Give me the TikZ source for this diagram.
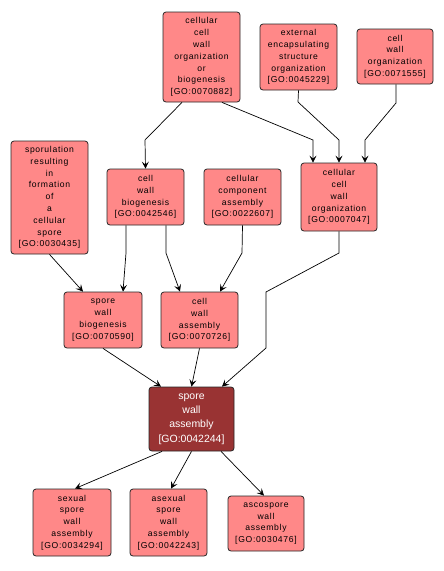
\documentclass[tikz,border=0pt]{standalone}
\usepackage{fontspec}
\setmainfont{Liberation Sans}
\newfontfamily\boxfont[LetterSpace=8]{Liberation Sans}
\usetikzlibrary{arrows.meta}
\definecolor{lightfill}{HTML}{FF8888}
\definecolor{darkfill}{HTML}{993333}
\begin{document}
\begin{tikzpicture}[x=1pt,y=-1pt,
  gobox/.style={draw=black!85, line width=0.8pt, rounded corners=3pt, fill=lightfill,
    align=center, inner sep=0pt, font=\boxfont\fontsize{8.6}{11.8}\selectfont},
  mainbox/.style={draw=black!85, line width=0.8pt, rounded corners=3pt, fill=darkfill,
    align=center, inner sep=0pt, text=white, font=\fontsize{10.5}{14.3}\selectfont},
  edge/.style={draw=black, line width=0.7pt, -{Stealth[length=7pt,width=7pt,inset=3pt]}}]
\useasboundingbox (0,0) rectangle (444,571);
\fill[white] (0,0) rectangle (444,571);
\node[gobox, minimum width=77pt, minimum height=90pt] (n0070882) at (201.5,57) {cellular\\cell\\wall\\organization\\or\\biogenesis\\{[}GO:0070882{]}};
\node[gobox, minimum width=77pt, minimum height=66pt] (n0045229) at (298.5,57) {external\\encapsulating\\structure\\organization\\{[}GO:0045229{]}};
\node[gobox, minimum width=76pt, minimum height=55pt] (n0071555) at (395,56.5) {cell\\wall\\organization\\{[}GO:0071555{]}};
\node[gobox, minimum width=77pt, minimum height=113pt] (n0030435) at (49.5,197.5) {sporulation\\resulting\\in\\formation\\of\\a\\cellular\\spore\\{[}GO:0030435{]}};
\node[gobox, minimum width=77pt, minimum height=56pt] (n0042546) at (145.5,197) {cell\\wall\\biogenesis\\{[}GO:0042546{]}};
\node[gobox, minimum width=77pt, minimum height=56pt] (n0022607) at (242.5,197) {cellular\\component\\assembly\\{[}GO:0022607{]}};
\node[gobox, minimum width=76pt, minimum height=68pt] (n0007047) at (339,197) {cellular\\cell\\wall\\organization\\{[}GO:0007047{]}};
\node[gobox, minimum width=78pt, minimum height=56pt] (n0070590) at (103,320) {spore\\wall\\biogenesis\\{[}GO:0070590{]}};
\node[gobox, minimum width=77pt, minimum height=56pt] (n0070726) at (199.5,320) {cell\\wall\\assembly\\{[}GO:0070726{]}};
\node[mainbox, minimum width=85pt, minimum height=64pt] (n0042244) at (191.5,419) {spore\\wall\\assembly\\{[}GO:0042244{]}};
\node[gobox, minimum width=78pt, minimum height=67pt] (n0034294) at (72,522.5) {sexual\\spore\\wall\\assembly\\{[}GO:0034294{]}};
\node[gobox, minimum width=77pt, minimum height=67pt] (n0042243) at (168.5,522.5) {asexual\\spore\\wall\\assembly\\{[}GO:0042243{]}};
\node[gobox, minimum width=76pt, minimum height=55pt] (n0030476) at (266,523.5) {ascospore\\wall\\assembly\\{[}GO:0030476{]}};
% bend points
\coordinate (b1) at (145,140);
\coordinate (b2) at (313,140);
\coordinate (b3a) at (298,102);
\coordinate (b3b) at (339,140);
\coordinate (b4a) at (396,103);
\coordinate (b4b) at (365,140);
\coordinate (b6) at (126,253);
\coordinate (b7) at (166,253);
\coordinate (b8) at (242,253);
\coordinate (b9a) at (339,253);
\coordinate (b9b) at (266,292);
\coordinate (b9c) at (266,348);
% edges
\draw[edge] ([xshift=-19.5pt]n0070882.south) -- (b1) -- (n0042546.north);
\draw[edge] ([xshift=20.5pt]n0070882.south) -- (b2) -- ([xshift=-26pt]n0007047.north);
\draw[edge] (n0045229.south) -- (b3a) -- (b3b) -- (n0007047.north);
\draw[edge] ([xshift=1pt]n0071555.south) -- (b4a) -- (b4b) -- ([xshift=26pt]n0007047.north);
\draw[edge] (n0030435.south) -- ([xshift=-20pt]n0070590.north);
\draw[edge] ([xshift=-19.5pt]n0042546.south) -- (b6) -- ([xshift=20pt]n0070590.north);
\draw[edge] ([xshift=20.5pt]n0042546.south) -- (b7) -- ([xshift=-19.5pt]n0070726.north);
\draw[edge] (n0022607.south) -- (b8) -- ([xshift=20.5pt]n0070726.north);
\draw[edge] (n0007047.south) -- (b9a) -- (b9b) -- (b9c) -- ([xshift=30.5pt]n0042244.north);
\draw[edge] (n0070590.south) -- ([xshift=-30.5pt]n0042244.north);
\draw[edge] (n0070726.south) -- (n0042244.north);
\draw[edge] ([xshift=-29.5pt]n0042244.south) -- ([xshift=3pt]n0034294.north);
\draw[edge] (n0042244.south) -- ([xshift=2.5pt]n0042243.north);
\draw[edge] ([xshift=29.5pt]n0042244.south) -- ([xshift=-2pt]n0030476.north);
\end{tikzpicture}
\end{document}
